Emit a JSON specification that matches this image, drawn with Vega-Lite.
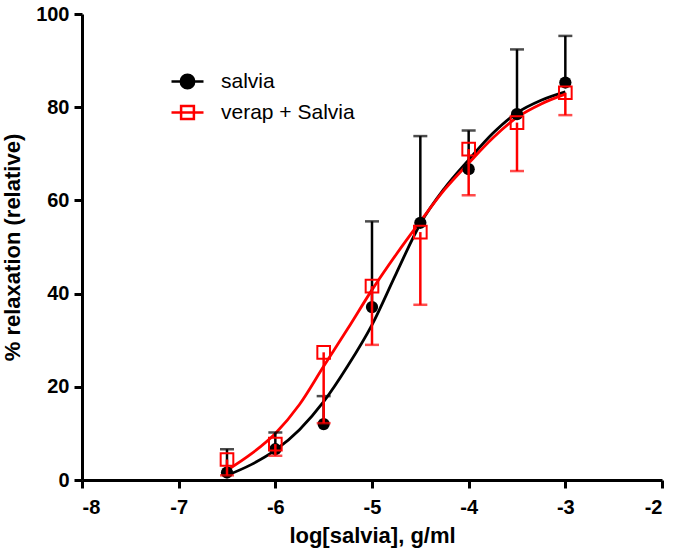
{
  "$schema": "https://vega.github.io/schema/vega-lite/v6.json",
  "width": 580,
  "height": 466,
  "autosize": {"type": "none"},
  "padding": {"left": 82, "top": 14, "right": 13, "bottom": 73},
  "background": "white",
  "config": {
    "view": {"stroke": null},
    "font": "Liberation Sans",
    "axis": {
      "grid": false,
      "domainColor": "black",
      "domainWidth": 3,
      "tickColor": "black",
      "tickWidth": 3,
      "tickSize": 8,
      "labelFont": "Liberation Sans",
      "labelFontSize": 20,
      "labelFontWeight": "bold",
      "labelColor": "black",
      "titleFont": "Liberation Sans",
      "titleFontSize": 22,
      "titleFontWeight": "bold",
      "titleColor": "black"
    }
  },
  "datasets": {
    "pts": [
      {"series": "salvia", "x": -6.5, "mean": 1.6, "lo": 1.6, "hi": 6.6},
      {"series": "salvia", "x": -6.0, "mean": 6.6, "lo": 6.6, "hi": 10.2},
      {"series": "salvia", "x": -5.5, "mean": 12.0, "lo": 12.0, "hi": 18.0},
      {"series": "salvia", "x": -5.0, "mean": 37.1, "lo": 37.1, "hi": 55.5},
      {"series": "salvia", "x": -4.5, "mean": 55.2, "lo": 55.2, "hi": 73.8},
      {"series": "salvia", "x": -4.0, "mean": 66.7, "lo": 66.7, "hi": 75.0},
      {"series": "salvia", "x": -3.5, "mean": 78.5, "lo": 78.5, "hi": 92.4},
      {"series": "salvia", "x": -3.0, "mean": 85.3, "lo": 85.3, "hi": 95.3},
      {"series": "verap + Salvia", "x": -6.5, "mean": 4.4, "lo": 1.0, "hi": 4.4},
      {"series": "verap + Salvia", "x": -6.0, "mean": 7.7, "lo": 5.2, "hi": 7.7},
      {"series": "verap + Salvia", "x": -5.5, "mean": 27.4, "lo": 12.2, "hi": 27.4},
      {"series": "verap + Salvia", "x": -5.0, "mean": 41.6, "lo": 29.0, "hi": 41.6},
      {"series": "verap + Salvia", "x": -4.5, "mean": 53.2, "lo": 37.6, "hi": 53.2},
      {"series": "verap + Salvia", "x": -4.0, "mean": 71.0, "lo": 61.1, "hi": 71.0},
      {"series": "verap + Salvia", "x": -3.5, "mean": 76.7, "lo": 66.3, "hi": 76.7},
      {"series": "verap + Salvia", "x": -3.0, "mean": 83.1, "lo": 78.3, "hi": 83.1}
    ],
    "fit": [
      {"series": "salvia", "x": -6.5, "y": 1.0},
      {"series": "salvia", "x": -6.25, "y": 3.3},
      {"series": "salvia", "x": -6.0, "y": 6.4},
      {"series": "salvia", "x": -5.75, "y": 10.8},
      {"series": "salvia", "x": -5.5, "y": 16.8},
      {"series": "salvia", "x": -5.25, "y": 24.5},
      {"series": "salvia", "x": -5.0, "y": 33.3},
      {"series": "salvia", "x": -4.75, "y": 44.3},
      {"series": "salvia", "x": -4.5, "y": 55.0},
      {"series": "salvia", "x": -4.25, "y": 62.6},
      {"series": "salvia", "x": -4.0, "y": 68.7},
      {"series": "salvia", "x": -3.75, "y": 74.4},
      {"series": "salvia", "x": -3.5, "y": 78.8},
      {"series": "salvia", "x": -3.25, "y": 81.5},
      {"series": "salvia", "x": -3.0, "y": 83.3},
      {"series": "verap + Salvia", "x": -6.5, "y": 2.1},
      {"series": "verap + Salvia", "x": -6.25, "y": 5.6},
      {"series": "verap + Salvia", "x": -6.0, "y": 10.0},
      {"series": "verap + Salvia", "x": -5.75, "y": 16.2},
      {"series": "verap + Salvia", "x": -5.5, "y": 24.4},
      {"series": "verap + Salvia", "x": -5.25, "y": 32.5},
      {"series": "verap + Salvia", "x": -5.0, "y": 40.8},
      {"series": "verap + Salvia", "x": -4.75, "y": 48.4},
      {"series": "verap + Salvia", "x": -4.5, "y": 55.5},
      {"series": "verap + Salvia", "x": -4.25, "y": 62.3},
      {"series": "verap + Salvia", "x": -4.0, "y": 68.0},
      {"series": "verap + Salvia", "x": -3.75, "y": 73.4},
      {"series": "verap + Salvia", "x": -3.5, "y": 77.8},
      {"series": "verap + Salvia", "x": -3.25, "y": 80.7},
      {"series": "verap + Salvia", "x": -3.0, "y": 82.8}
    ]
  },
  "encoding": {
    "x": {
      "type": "quantitative",
      "scale": {"domain": [-8, -2], "nice": false, "zero": false},
      "axis": {"values": [-8, -7, -6, -5, -4, -3, -2], "labelExpr": "'' + datum.value", "title": "log[salvia], g/ml", "titlePadding": 8, "labelPadding": 9}
    },
    "y": {
      "type": "quantitative",
      "scale": {"domain": [0, 100], "nice": false},
      "axis": {"values": [0, 20, 40, 60, 80, 100], "title": "% relaxation (relative)", "titlePadding": 11, "labelPadding": 5}
    }
  },
  "layer": [
    {
      "data": {"name": "fit"},
      "mark": {"type": "line", "interpolate": "monotone", "strokeWidth": 2.8},
      "encoding": {
        "x": {"field": "x", "type": "quantitative"},
        "y": {"field": "y", "type": "quantitative"},
        "color": {
          "field": "series",
          "type": "nominal",
          "scale": {"domain": ["salvia", "verap + Salvia"], "range": ["#000000", "#ff0000"]},
          "legend": {
            "title": null,
            "orient": "none",
            "legendX": 88,
            "legendY": 50,
            "symbolSize": 1024,
            "symbolStrokeWidth": 2.5,
            "labelFont": "Liberation Sans",
            "labelFontSize": 21,
            "labelColor": "black",
            "labelOffset": 16,
            "rowPadding": 1,
            "padding": 0,
            "encode": {
              "symbols": {
                "update": {
                  "shape": {"signal": "datum.value === 'salvia' ? 'M-1,0H1M-0.42,0A0.42,0.42 0 1,0 0.42,0A0.42,0.42 0 1,0 -0.42,0Z' : 'M-1,0H1M-0.4,-0.4H0.4V0.4H-0.4Z'"},
                  "fill": {"signal": "datum.value === 'salvia' ? '#000000' : 'transparent'"},
                  "strokeWidth": {"value": 2.5}
                }
              }
            }
          }
        },
        "detail": {"field": "series"}
      }
    },
    {
      "data": {"name": "pts"},
      "transform": [{"filter": "datum.series === 'salvia'"}],
      "layer": [
        {
          "mark": {"type": "rule", "color": "black", "strokeWidth": 2.5},
          "encoding": {"x": {"field": "x", "type": "quantitative"}, "y": {"field": "lo", "type": "quantitative"}, "y2": {"field": "hi"}}
        },
        {
          "mark": {"type": "tick", "orient": "horizontal", "color": "black", "size": 14, "thickness": 2.5},
          "encoding": {"x": {"field": "x", "type": "quantitative"}, "y": {"field": "hi", "type": "quantitative"}}
        },
        {
          "mark": {"type": "point", "shape": "circle", "filled": true, "color": "black", "size": 150, "opacity": 1},
          "encoding": {"x": {"field": "x", "type": "quantitative"}, "y": {"field": "mean", "type": "quantitative"}}
        }
      ]
    },
    {
      "data": {"name": "pts"},
      "transform": [{"filter": "datum.series !== 'salvia'"}],
      "layer": [
        {
          "mark": {"type": "rule", "color": "#ff0000", "strokeWidth": 2.5},
          "encoding": {"x": {"field": "x", "type": "quantitative"}, "y": {"field": "lo", "type": "quantitative"}, "y2": {"field": "hi"}}
        },
        {
          "mark": {"type": "tick", "orient": "horizontal", "color": "#ff0000", "size": 14, "thickness": 2.5},
          "encoding": {"x": {"field": "x", "type": "quantitative"}, "y": {"field": "lo", "type": "quantitative"}}
        },
        {
          "mark": {"type": "point", "shape": "square", "filled": false, "color": "#ff0000", "size": 160, "strokeWidth": 2, "opacity": 1},
          "encoding": {"x": {"field": "x", "type": "quantitative"}, "y": {"field": "mean", "type": "quantitative"}}
        }
      ]
    }
  ]
}
